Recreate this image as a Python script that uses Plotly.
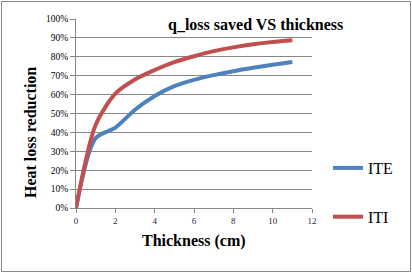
import plotly.graph_objects as go

thickness = [0, 1, 2, 3, 4, 5, 6, 7, 8, 9, 10, 11]
ite = [0.0, 0.37, 0.425, 0.52, 0.593, 0.645, 0.678, 0.703, 0.724, 0.742, 0.758, 0.773]
iti = [0.0, 0.44, 0.605, 0.68, 0.73, 0.772, 0.803, 0.83, 0.85, 0.866, 0.878, 0.887]

x_ticks = [0, 2, 4, 6, 8, 10, 12]
y_ticks = [i / 10 for i in range(11)]
y_tick_labels = [f"{i*10}%" for i in range(11)]

SERIF = "Liberation Serif, Times New Roman, serif"
GRID = "#868686"

fig = go.Figure()
fig.add_trace(go.Scatter(x=thickness, y=ite, name="ITE", mode="lines",
                         line=dict(color="#4F81BD", width=4, shape="spline", smoothing=0.8),
                         legendgroup="a"))
fig.add_trace(go.Scatter(x=thickness, y=iti, name="ITI", mode="lines",
                         line=dict(color="#C0504D", width=4, shape="spline", smoothing=0.8),
                         legendgroup="b"))

L, R, T, B = 76, 100, 19, 65
W, H = 412, 273
pw, ph = W - L - R, H - T - B

def px(x):
    return (x - L) / pw

def py(y):
    return (H - B - y) / ph

fig.update_layout(
    width=W, height=H,
    margin=dict(l=L, r=R, t=T, b=B, autoexpand=False),
    paper_bgcolor="white", plot_bgcolor="white",
    font=dict(family=SERIF, color="black"),
    showlegend=True,
    legend=dict(x=px(328), y=py(151), xanchor="left", yanchor="top",
                font=dict(size=16, family=SERIF), tracegroupgap=25,
                bgcolor="rgba(0,0,0,0)", itemwidth=30),
    xaxis=dict(range=[0, 12], tickvals=x_ticks, ticks="outside", ticklen=4,
               tickcolor=GRID, showline=True, linecolor=GRID, linewidth=1,
               showgrid=False, zeroline=False, automargin=False,
               tickfont=dict(size=9, family=SERIF, color="#1F1F3F")),
    yaxis=dict(range=[0, 1], tickvals=y_ticks, ticktext=y_tick_labels, ticks="outside",
               ticklen=5, tickcolor=GRID, showline=True, linecolor=GRID, linewidth=1,
               showgrid=True, gridcolor=GRID, gridwidth=1, zeroline=False, automargin=False,
               tickfont=dict(size=9.5, family=SERIF)),
    annotations=[
        dict(text="<b>q_loss saved VS thickness</b>", x=px(255.5), y=py(25),
             xref="paper", yref="paper", xanchor="center", yanchor="middle",
             showarrow=False, font=dict(size=16, family=SERIF)),
        dict(text="<b>Thickness (cm)</b>", x=px(194), y=py(241),
             xref="paper", yref="paper", xanchor="center", yanchor="middle",
             showarrow=False, font=dict(size=16, family=SERIF)),
        dict(text="<b>Heat loss reduction</b>", x=px(30), y=py(133), textangle=-90,
             xref="paper", yref="paper", xanchor="center", yanchor="middle",
             showarrow=False, font=dict(size=16, family=SERIF)),
    ],
    shapes=[dict(type="rect", xref="paper", yref="paper",
                 x0=px(1.5), x1=px(410.5), y0=py(271.5), y1=py(1.5),
                 line=dict(color=GRID, width=1), layer="below")],
)

fig.write_html("out.html", config={"displayModeBar": False},
               post_script="document.body.style.margin='0';")
